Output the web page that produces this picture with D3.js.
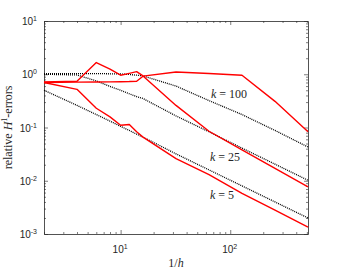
<!DOCTYPE html>
<html><head><meta charset="utf-8">
<script src="https://cdn.jsdelivr.net/npm/d3@7"></script>
<style>body{margin:0;background:#fff}svg{display:block}</style>
</head><body>
<script>
// 1/h values (mesh sizes)
const hInv = [2,4,6,8,10,12,14,16,32,64,128,256,512];
// relative H1 errors (red, computed)
const errK100 = [0.70,0.71,0.715,0.72,0.725,0.73,0.74,0.92,1.10,1.03,0.96,0.31,0.083];
const errK25  = [0.72,0.74,1.66,1.25,0.96,1.04,1.12,0.93,0.26,0.085,0.038,0.017,0.0077];
const errK5   = [0.70,0.52,0.23,0.158,0.11,0.114,0.083,0.066,0.026,0.013,0.0058,0.0028,0.00135];
// reference curves (black dotted)
const refK100 = [1.03,1.03,1.03,1.02,1.01,0.99,0.96,0.93,0.60,0.32,0.175,0.088,0.043];
const refK25  = [1.0,0.97,0.75,0.59,0.50,0.43,0.38,0.35,0.165,0.083,0.041,0.0205,0.0102];
const refK5   = [0.5,0.26,0.175,0.132,0.105,0.088,0.075,0.066,0.032,0.016,0.008,0.004,0.002];
const seriesLabels = ["k = 100","k = 25","k = 5"];
const labelPos = [[211,98],[210,161],[210,199]];
const yTickVals = [1e-3,1e-2,1e-1,1,10];
const yTickExp = ["-3","-2","-1","0","1"];
const xTickVals = [10,100];
const xTickExp = ["1","2"];

const W=341,H=273;
const svg=d3.select("body").append("svg").attr("width",W).attr("height",H);
const x=d3.scaleLog().domain([2,512]).range([44,308]);
const y=d3.scaleLog().domain([1e-3,10]).range([234,21]);

const axisColor="#262626";
// minor ticks
const xMinor=[];[1,10,100].forEach(b=>{for(let i=2;i<=9;i++){const v=b*i;if(v>=2&&v<=512&&v!==10&&v!==100)xMinor.push(v);}});
const yMinor=[];[1e-3,1e-2,1e-1,1].forEach(b=>{for(let i=2;i<=9;i++)yMinor.push(b*i);});

function styleAxis(g){g.select(".domain").attr("stroke",axisColor).attr("stroke-width",0.8);g.selectAll("line").attr("stroke",axisColor).attr("stroke-width",0.6);}

// bottom
const gxB=svg.append("g").attr("transform","translate(0,234)")
 .call(d3.axisBottom(x).tickValues(xTickVals).tickSize(-4).tickSizeOuter(0).tickFormat(()=>"10"));
gxB.append("g").call(d3.axisBottom(x).tickValues(xMinor).tickSize(-2).tickSizeOuter(0).tickFormat("")).select(".domain").remove();
// top
const gxT=svg.append("g").attr("transform","translate(0,21)")
 .call(d3.axisTop(x).tickValues(xTickVals).tickSize(-4).tickSizeOuter(0).tickFormat(""));
gxT.append("g").call(d3.axisTop(x).tickValues(xMinor).tickSize(-2).tickSizeOuter(0).tickFormat("")).select(".domain").remove();
// left
const gyL=svg.append("g").attr("transform","translate(44,0)")
 .call(d3.axisLeft(y).tickValues(yTickVals).tickSize(-4).tickSizeOuter(0).tickFormat(()=>"10"));
gyL.append("g").call(d3.axisLeft(y).tickValues(yMinor).tickSize(-2).tickSizeOuter(0).tickFormat("")).select(".domain").remove();
// right
const gyR=svg.append("g").attr("transform","translate(308,0)")
 .call(d3.axisRight(y).tickValues(yTickVals).tickSize(-4).tickSizeOuter(0).tickFormat(""));
gyR.append("g").call(d3.axisRight(y).tickValues(yMinor).tickSize(-2).tickSizeOuter(0).tickFormat("")).select(".domain").remove();
[gxB,gxT,gyL,gyR].forEach(styleAxis);

// tick label text styling with superscripts
gxB.selectAll(".tick text").each(function(d,i){
  const t=d3.select(this);
  t.attr("font-family","Liberation Sans, Arial, sans-serif").attr("font-size",10).attr("fill","#262626")
   .attr("y",null).attr("dy",null).attr("transform","translate(-1,19)").attr("text-anchor","middle");
  t.append("tspan").attr("font-size",7).attr("dy",-4).text(xTickExp[i]);
});
gyL.selectAll(".tick text").each(function(d,i){
  const t=d3.select(this);
  t.attr("font-family","Liberation Sans, Arial, sans-serif").attr("font-size",10).attr("fill","#262626")
   .attr("x",-7).attr("dy","0.35em").attr("text-anchor","end");
  t.append("tspan").attr("font-size",7).attr("dy",-4).text(yTickExp[i]);
});

// lines
const line=d3.line().x((d,i)=>x(hInv[i])).y(d=>y(d));
const g=svg.append("g");
[refK100,refK25,refK5].forEach(s=>{
  g.append("path").datum(s).attr("d",line).attr("fill","none").attr("stroke","#000")
   .attr("stroke-width",1.3).attr("stroke-dasharray","1,1");
});
[errK100,errK25,errK5].forEach(s=>{
  g.append("path").datum(s).attr("d",line).attr("fill","none").attr("stroke","#ff0000")
   .attr("stroke-width",1.4).attr("stroke-linejoin","round");
});

// series labels
seriesLabels.forEach((lab,i)=>{
  const t=svg.append("text").attr("x",labelPos[i][0]).attr("y",labelPos[i][1])
   .attr("font-family","Liberation Serif, DejaVu Serif, serif").attr("font-size",12).attr("fill","#262626");
  t.append("tspan").attr("font-style","italic").text(lab.slice(0,1));
  t.append("tspan").text(lab.slice(1));
});

// axis labels
const xl=svg.append("text").attr("x",176).attr("y",267).attr("text-anchor","middle")
 .attr("font-family","Liberation Serif, DejaVu Serif, serif").attr("font-size",12).attr("fill","#262626");
xl.append("tspan").text("1/");
xl.append("tspan").attr("font-style","italic").text("h");

const yl=svg.append("text").attr("transform","translate(12,127.5) rotate(-90)").attr("text-anchor","middle")
 .attr("font-family","Liberation Serif, DejaVu Serif, serif").attr("font-size",12).attr("fill","#262626");
yl.append("tspan").text("relative ");
yl.append("tspan").attr("font-style","italic").text("H");
yl.append("tspan").attr("font-size",8).attr("dy",-5).text("1");
yl.append("tspan").attr("dy",5).text("-errors");
</script>
</body></html>
